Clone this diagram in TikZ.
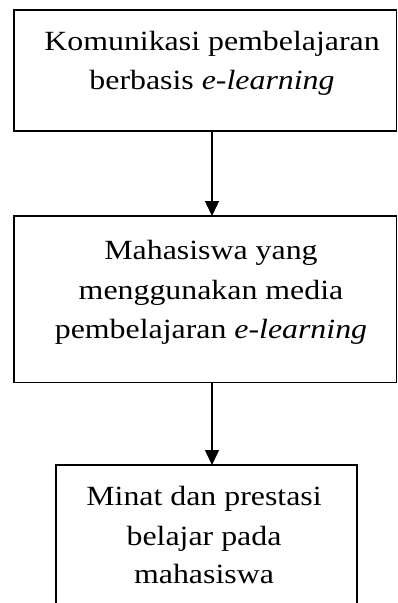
\documentclass[tikz,border=0pt]{standalone}
\usepackage{fontspec}
\setmainfont{Liberation Serif}
\usetikzlibrary{arrows.meta}
\newcommand{\wl}[1]{\scalebox{1.146}[1]{#1}}
\begin{document}
\begin{tikzpicture}[x=1pt,y=-1pt,
  box/.style={draw,line width=1.6pt,inner sep=0pt,outer sep=0pt},
  lbl/.style={anchor=base,inner sep=0pt,font=\fontsize{27.8}{39.5}\selectfont},
  arr/.style={line width=1.4pt,-{Triangle[length=15pt,width=14pt]}}]
\useasboundingbox (0,0) rectangle (398,603);
\clip (0,0) rectangle (398,603);
\node[box,minimum width=382.5pt,minimum height=121pt] (b1) at (205.25,70.5) {};
\node[box,minimum width=382.5pt,minimum height=166.5pt] (b2) at (205.25,299.25) {};
\node[box,minimum width=301pt,minimum height=155pt] (b3) at (206.5,542.5) {};
\coordinate (ax) at (212,0);
\draw[arr] (b1.south -| ax) -- (b2.north -| ax);
\draw[arr] (b2.south -| ax) -- (b3.north -| ax);
\node[lbl] (t11) at (212,50) {\wl{Komunikasi pembelajaran}};
\node[lbl] (t12) at (212,89) {\wl{berbasis \textit{e-learning}}};
\node[lbl] (t21) at (211,259) {\wl{Mahasiswa yang}};
\node[lbl] (t22) at (211,299) {\wl{menggunakan media}};
\node[lbl] (t23) at (211,338) {\wl{pembelajaran \textit{e-learning}}};
\node[lbl] (t31) at (204,505) {\wl{Minat dan prestasi}};
\node[lbl] (t32) at (204,545) {\wl{belajar pada}};
\node[lbl] (t33) at (204,583) {\wl{mahasiswa}};
\end{tikzpicture}
\end{document}
